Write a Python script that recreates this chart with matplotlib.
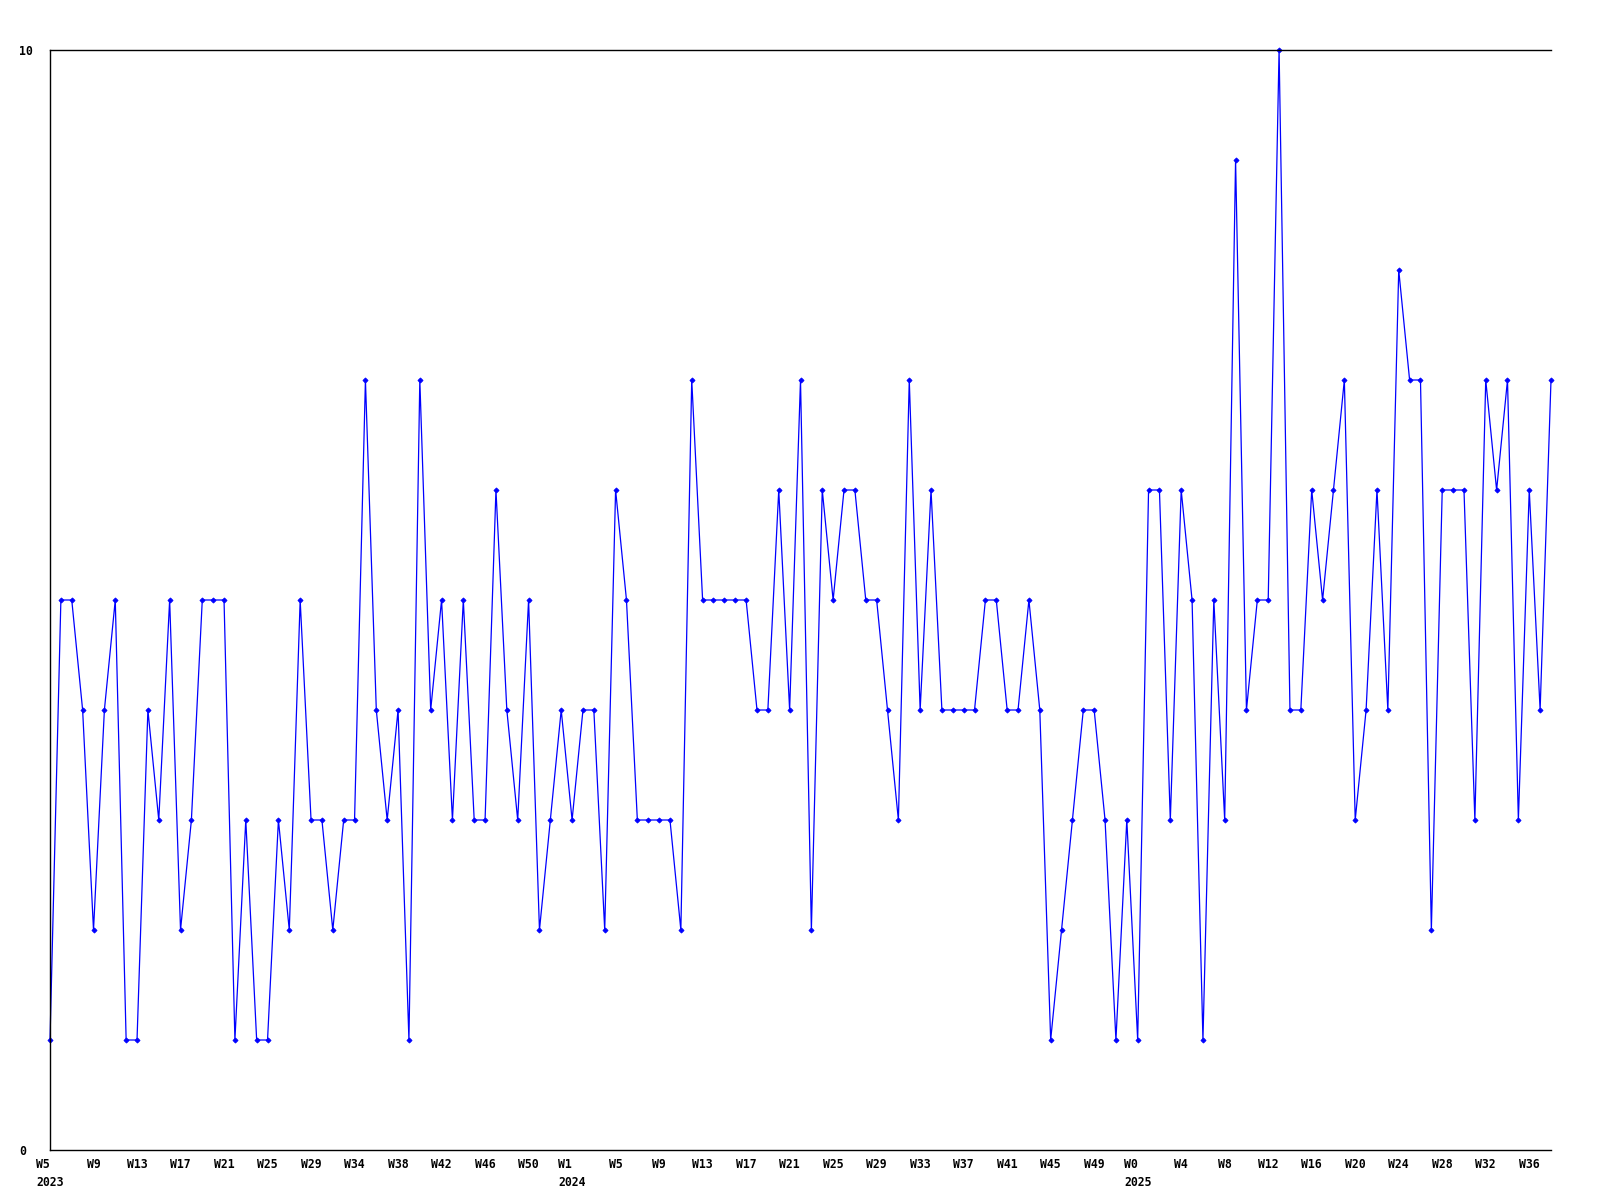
import numpy as np
import matplotlib
matplotlib.use("Agg")
import matplotlib.pyplot as plt

# weekly counts, W5 2023 .. W38 2025
values = [1, 5, 5, 4, 2, 4, 5, 1, 1, 4, 3, 5, 2, 3, 5, 5, 5, 1, 3, 1, 1, 3, 2, 5,
          3, 3, 2, 3, 3, 7, 4, 3, 4, 1, 7, 4, 5, 3, 5, 3, 3, 6, 4, 3, 5, 2, 3,
          4, 3, 4, 4, 2, 6, 5, 3, 3, 3, 3, 2, 7, 5, 5, 5, 5, 5, 4, 4, 6, 4, 7,
          2, 6, 5, 6, 6, 5, 5, 4, 3, 7, 4, 6, 4, 4, 4, 4, 5, 5, 4, 4, 5, 4, 1,
          2, 3, 4, 4, 3, 1, 3, 1, 6, 6, 3, 6, 5, 1, 5, 3, 9, 4, 5, 5, 10, 4, 4,
          6, 5, 6, 7, 3, 4, 6, 4, 8, 7, 7, 2, 6, 6, 6, 3, 7, 6, 7, 3, 6, 4, 7]

tick_labels = ["W5\n2023", "W9", "W13", "W17", "W21", "W25", "W29", "W34", "W38",
               "W42", "W46", "W50", "W1\n2024", "W5", "W9", "W13", "W17", "W21",
               "W25", "W29", "W33", "W37", "W41", "W45", "W49", "W0\n2025", "W4",
               "W8", "W12", "W16", "W20", "W24", "W28", "W32", "W36"]
tick_step = 4

x = np.arange(len(values))
ticks = np.arange(len(tick_labels)) * tick_step

fig = plt.figure(figsize=(16, 12), dpi=100)
ax = fig.add_axes([50 / 1600, 50 / 1200, 1501 / 1600, 1100 / 1200])

ax.plot(x, values, color="#0000ff", linewidth=0.9, marker="D",
        markersize=2.6, markeredgewidth=0.6, clip_on=False)

ax.set_xlim(0, len(values) - 1)
ax.set_ylim(0, 10)

ax.spines["right"].set_visible(False)
for s in ["left", "top", "bottom"]:
    ax.spines[s].set_linewidth(1.0)
    ax.spines[s].set_color("black")

tfont = dict(family="DejaVu Sans Mono", weight="bold", size=8.3)

ax.set_xticks(ticks)
ax.set_xticklabels(tick_labels, **tfont)
for lab in ax.get_xticklabels():
    lab.set_multialignment("left")
    lab.set_linespacing(1.5)
ax.tick_params(axis="x", length=0, pad=6)

ax.set_yticks([0, 10])
ax.set_yticklabels(["0", "10"], **tfont)
for lab in ax.get_yticklabels():
    lab.set_horizontalalignment("left")
ax.tick_params(axis="y", length=0, pad=22)

fig.savefig("out.png", dpi=100, facecolor="white")
